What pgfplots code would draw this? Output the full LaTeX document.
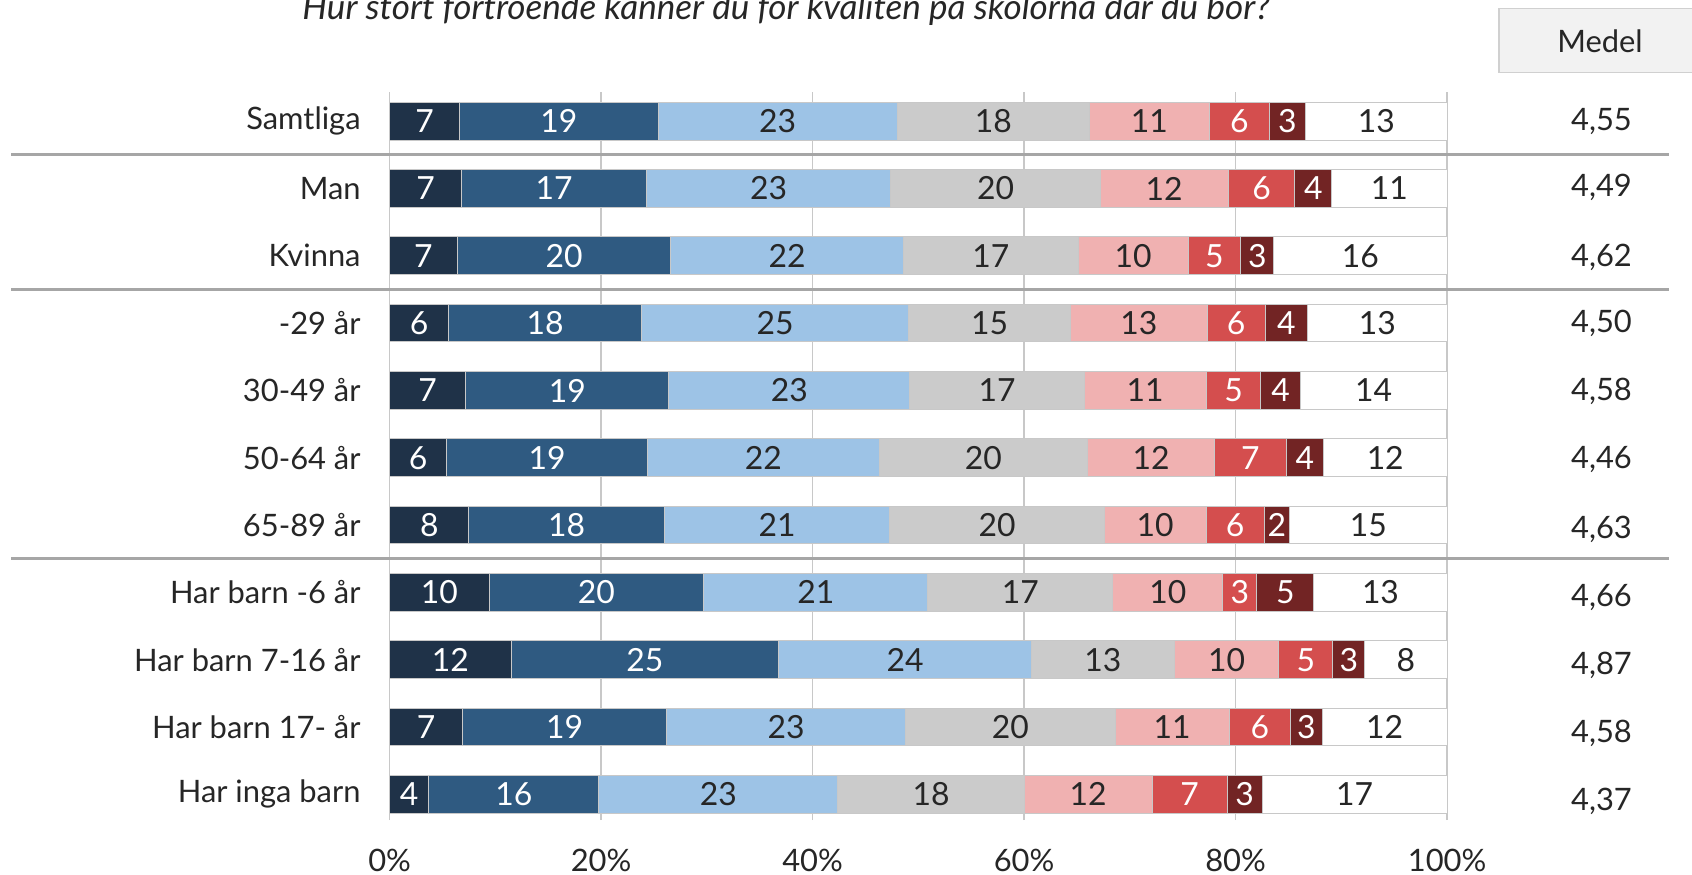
\documentclass[border=0pt]{standalone}
\usepackage{fontspec}
\setmainfont{Lato}
\usepackage{pgfplots}
\pgfplotsset{compat=1.18}

\definecolor{c1}{HTML}{1F3248}
\definecolor{c2}{HTML}{2F5A81}
\definecolor{c3}{HTML}{9DC3E6}
\definecolor{c4}{HTML}{CBCBCB}
\definecolor{c5}{HTML}{F0B1B1}
\definecolor{c6}{HTML}{D44E4E}
\definecolor{c7}{HTML}{722424}
\definecolor{c8}{HTML}{FFFFFF}
\definecolor{txt}{HTML}{262626}
\definecolor{gridc}{HTML}{C8C8C8}
\definecolor{sepc}{HTML}{A6A6A6}
\definecolor{boxc}{HTML}{F2F2F2}
\definecolor{boxb}{HTML}{D0D0D0}

\newcommand{\fnt}{\fontsize{15.5}{18}\selectfont}

% stacked bars already put nodes near coords mid-segment
\pgfplotsset{
  seg/.style 2 args={
    fill=#1, draw=gridc, line width=0.5bp,
    nodes near coords, point meta=explicit symbolic,
    every node near coord/.style={
      anchor=center, font=\fontsize{16}{18}\selectfont, text=#2}
  }
}

\begin{document}
\begin{tikzpicture}
\path[use as bounding box] (0,0) rectangle (846bp,-437.5bp);

% title, cut at the top as in the original
\node[anchor=base, font=\fontsize{17.6}{20}\selectfont\itshape, text=txt]
  at (393bp,-9.5bp) {Hur stort förtroende känner du för kvaliten på skolorna där du bor?};

% Medel header
\draw[fill=boxc, draw=boxb, line width=0.6bp] (749.5bp,-4.3bp) rectangle (850bp,-36.1bp);
\node[font=\fnt, text=txt] at (800bp,-20.5bp) {Medel};

\begin{axis}[
  at={(194.8bp,-410bp)}, anchor=south west,
  scale only axis, width=528.75bp, height=363.9bp,
  xbar stacked, bar width=0.56,
  xmin=0, xmax=100, ymin=-0.38, ymax=10.43,
  clip=false,
  axis line style={draw=none},
  major tick length=0pt,
  xtick={0,20,40,60,80,100},
  xticklabels={0\%,20\%,40\%,60\%,80\%,100\%},
  xmajorgrids, grid style={gridc, line width=0.75bp},
  ytick={0,...,10},
  yticklabels={Har inga barn, Har barn 17- år, Har barn 7-16 år, Har barn -6 år,
    65-89 år, 50-64 år, 30-49 år, -29 år, Kvinna, Man, Samtliga},
  tick label style={font=\fnt, text=txt},
  xticklabel style={yshift=-11bp},
  yticklabel style={xshift=-11bp},
]
% rows: 10 Samtliga, 9 Man, 8 Kvinna, 7 -29, 6 30-49, 5 50-64, 4 65-89,
%       3 barn -6, 2 barn 7-16, 1 barn 17-, 0 inga barn
\addplot+[seg={c1}{white}] coordinates {
  (6.6,10)[7] (6.8,9)[7] (6.4,8)[7] (5.6,7)[6] (7.2,6)[7] (5.4,5)[6]
  (7.5,4)[8] (9.4,3)[10] (11.5,2)[12] (6.9,1)[7] (3.7,0)[4]};
\addplot+[seg={c2}{white}] coordinates {
  (18.8,10)[19] (17.5,9)[17] (20.2,8)[20] (18.2,7)[18] (19.2,6)[19] (19.0,5)[19]
  (18.5,4)[18] (20.3,3)[20] (25.3,2)[25] (19.3,1)[19] (16.1,0)[16]};
\addplot+[seg={c3}{txt}] coordinates {
  (22.6,10)[23] (23.1,9)[23] (22.0,8)[22] (25.3,7)[25] (22.8,6)[23] (21.9,5)[22]
  (21.3,4)[21] (21.2,3)[21] (23.9,2)[24] (22.6,1)[23] (22.6,0)[23]};
\addplot+[seg={c4}{txt}] coordinates {
  (18.2,10)[18] (19.8,9)[20] (16.5,8)[17] (15.3,7)[15] (16.5,6)[17] (19.7,5)[20]
  (20.3,4)[20] (17.5,3)[17] (13.5,2)[13] (19.8,1)[20] (17.6,0)[18]};
\addplot+[seg={c5}{txt}] coordinates {
  (11.3,10)[11] (12.1,9)[12] (10.4,8)[10] (12.9,7)[13] (11.5,6)[11] (12.0,5)[12]
  (9.6,4)[10] (10.4,3)[10] (9.9,2)[10] (10.8,1)[11] (12.1,0)[12]};
\addplot+[seg={c6}{white}] coordinates {
  (5.7,10)[6] (6.3,9)[6] (5.0,8)[5] (5.5,7)[6] (5.2,6)[5] (6.8,5)[7]
  (5.5,4)[6] (3.2,3)[3] (5.1,2)[5] (5.8,1)[6] (7.1,0)[7]};
\addplot+[seg={c7}{white}] coordinates {
  (3.4,10)[3] (3.5,9)[4] (3.1,8)[3] (4.0,7)[4] (3.7,6)[4] (3.5,5)[4]
  (2.4,4)[2] (5.4,3)[5] (3.0,2)[3] (3.0,1)[3] (3.3,0)[3]};
\addplot+[seg={c8}{txt}] coordinates {
  (13.4,10)[13] (10.9,9)[11] (16.4,8)[16] (13.2,7)[13] (13.9,6)[14] (11.7,5)[12]
  (14.9,4)[15] (12.6,3)[13] (7.8,2)[8] (11.8,1)[12] (17.5,0)[17]};

% group separators
\draw[sepc, line width=1.6bp] (axis cs:-35.8,9.5) -- (axis cs:121,9.5);
\draw[sepc, line width=1.6bp] (axis cs:-35.8,7.5) -- (axis cs:121,7.5);
\draw[sepc, line width=1.6bp] (axis cs:-35.8,3.5) -- (axis cs:121,3.5);
\end{axis}

% Medel column
\begin{axis}[
  at={(194.8bp,-410bp)}, anchor=south west,
  scale only axis, width=528.75bp, height=363.9bp,
  xmin=0, xmax=100, ymin=-0.38, ymax=10.43,
  clip=false, hide axis,
]
\addplot[draw=none, mark=none, nodes near coords, point meta=explicit symbolic,
  every node near coord/.style={anchor=center, font=\fnt, text=txt}]
  coordinates {
  (114.6,10)[{4,55}] (114.6,9.01)[{4,49}] (114.6,7.98)[{4,62}] (114.6,6.99)[{4,50}]
  (114.6,5.98)[{4,58}] (114.6,4.97)[{4,46}] (114.6,3.94)[{4,63}] (114.6,2.93)[{4,66}]
  (114.6,1.92)[{4,87}] (114.6,0.91)[{4,58}] (114.6,-0.11)[{4,37}]};
\end{axis}
\end{tikzpicture}
\end{document}
